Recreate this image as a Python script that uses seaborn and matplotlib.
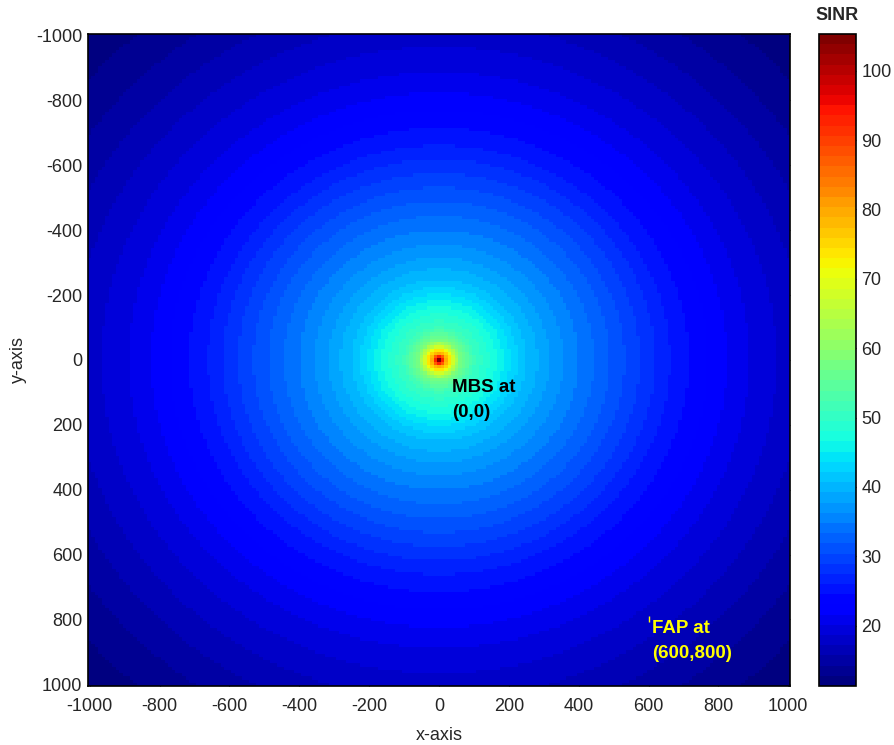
import numpy as np
import pandas as pd
import seaborn as sns
import matplotlib
matplotlib.use("Agg")
import matplotlib.pyplot as plt
from matplotlib.colors import ListedColormap

sns.set_style("white")
plt.rcParams["font.family"] = ["Liberation Sans", "DejaVu Sans"]

# Grid of evaluation points (metres), macro base station at the origin
grid_min, grid_max, grid_step = -1000, 1000, 10
coords = np.arange(grid_min, grid_max + grid_step, grid_step)

# SINR (dB) versus distance from the MBS
radial_dist = [0, 10, 20, 40, 60, 100, 171, 240, 333, 476, 667, 857, 1000, 1200, 1414]
radial_sinr = [105, 93, 80, 68, 58, 51, 46, 41, 37, 32.3, 25.8, 20.7, 18, 14.5, 11.5]

sinr_min, sinr_max = 11.3, 105.3
tick_values = [-1000, -800, -600, -400, -200, 0, 200, 400, 600, 800, 1000]
cbar_ticks = [20, 30, 40, 50, 60, 70, 80, 90, 100]

mbs_pos = (0, 0)
fap_pos = (600, 800)

xx, yy = np.meshgrid(coords, coords)
dist = np.hypot(xx - mbs_pos[0], yy - mbs_pos[1])
field = np.interp(dist, radial_dist, radial_sinr)
df = pd.DataFrame(field, index=coords, columns=coords)

jet64 = ListedColormap(plt.get_cmap("jet")(np.linspace(0, 1, 64)))

fig = plt.figure(figsize=(8.94, 7.45), dpi=100)
ax = fig.add_axes([0.0984, 0.0792, 0.7853, 0.8752])
cax = fig.add_axes([0.916, 0.0792, 0.0415, 0.8752])

sns.heatmap(df, ax=ax, cbar_ax=cax, cmap=jet64, vmin=sinr_min, vmax=sinr_max,
            xticklabels=False, yticklabels=False, rasterized=True)


def to_idx(v):
    return (v - grid_min) / grid_step + 0.5


pos = [to_idx(v) for v in tick_values]
ax.set_xticks(pos)
ax.set_xticklabels([str(v) for v in tick_values], fontsize=13)
ax.set_yticks(pos)
ax.set_yticklabels([str(v) for v in tick_values], fontsize=13, rotation=0)
ax.tick_params(axis="both", direction="in", length=4, width=0.8, top=True, right=True,
               bottom=True, left=True, labeltop=False, labelright=False)
ax.tick_params(axis="x", pad=9)
ax.tick_params(axis="y", pad=4)
for s in ax.spines.values():
    s.set_visible(True)
    s.set_color("black")
    s.set_linewidth(1.2)
ax.set_xlabel("x-axis", fontsize=13, labelpad=8)
ax.set_ylabel("y-axis", fontsize=13, labelpad=7)

# Station annotations
ax.text(to_idx(37), to_idx(99), "MBS at", fontsize=13.5, fontweight="bold",
        color="black", ha="left", va="baseline")
ax.text(to_idx(37), to_idx(176), "(0,0)", fontsize=13.5, fontweight="bold",
        color="black", ha="left", va="baseline")
ax.text(to_idx(611), to_idx(842), "FAP at", fontsize=13.5, fontweight="bold",
        color="yellow", ha="left", va="baseline")
ax.text(to_idx(609), to_idx(919), "(600,800)", fontsize=13.5, fontweight="bold",
        color="yellow", ha="left", va="baseline")
ax.plot([to_idx(fap_pos[0])], [to_idx(fap_pos[1])], marker="|",
        color="yellow", markersize=4, markeredgewidth=1)

cbar = ax.collections[0].colorbar
cbar.set_ticks(cbar_ticks)
cbar.ax.tick_params(labelsize=13, direction="in", length=5, width=0.8,
                    left=True, right=True, pad=4)
cbar.outline.set_visible(True)
cbar.outline.set_linewidth(1.2)
cbar.outline.set_edgecolor("black")
cax.set_title("SINR", fontsize=13, fontweight="bold", pad=10)

fig.savefig("out.png", dpi=100)
